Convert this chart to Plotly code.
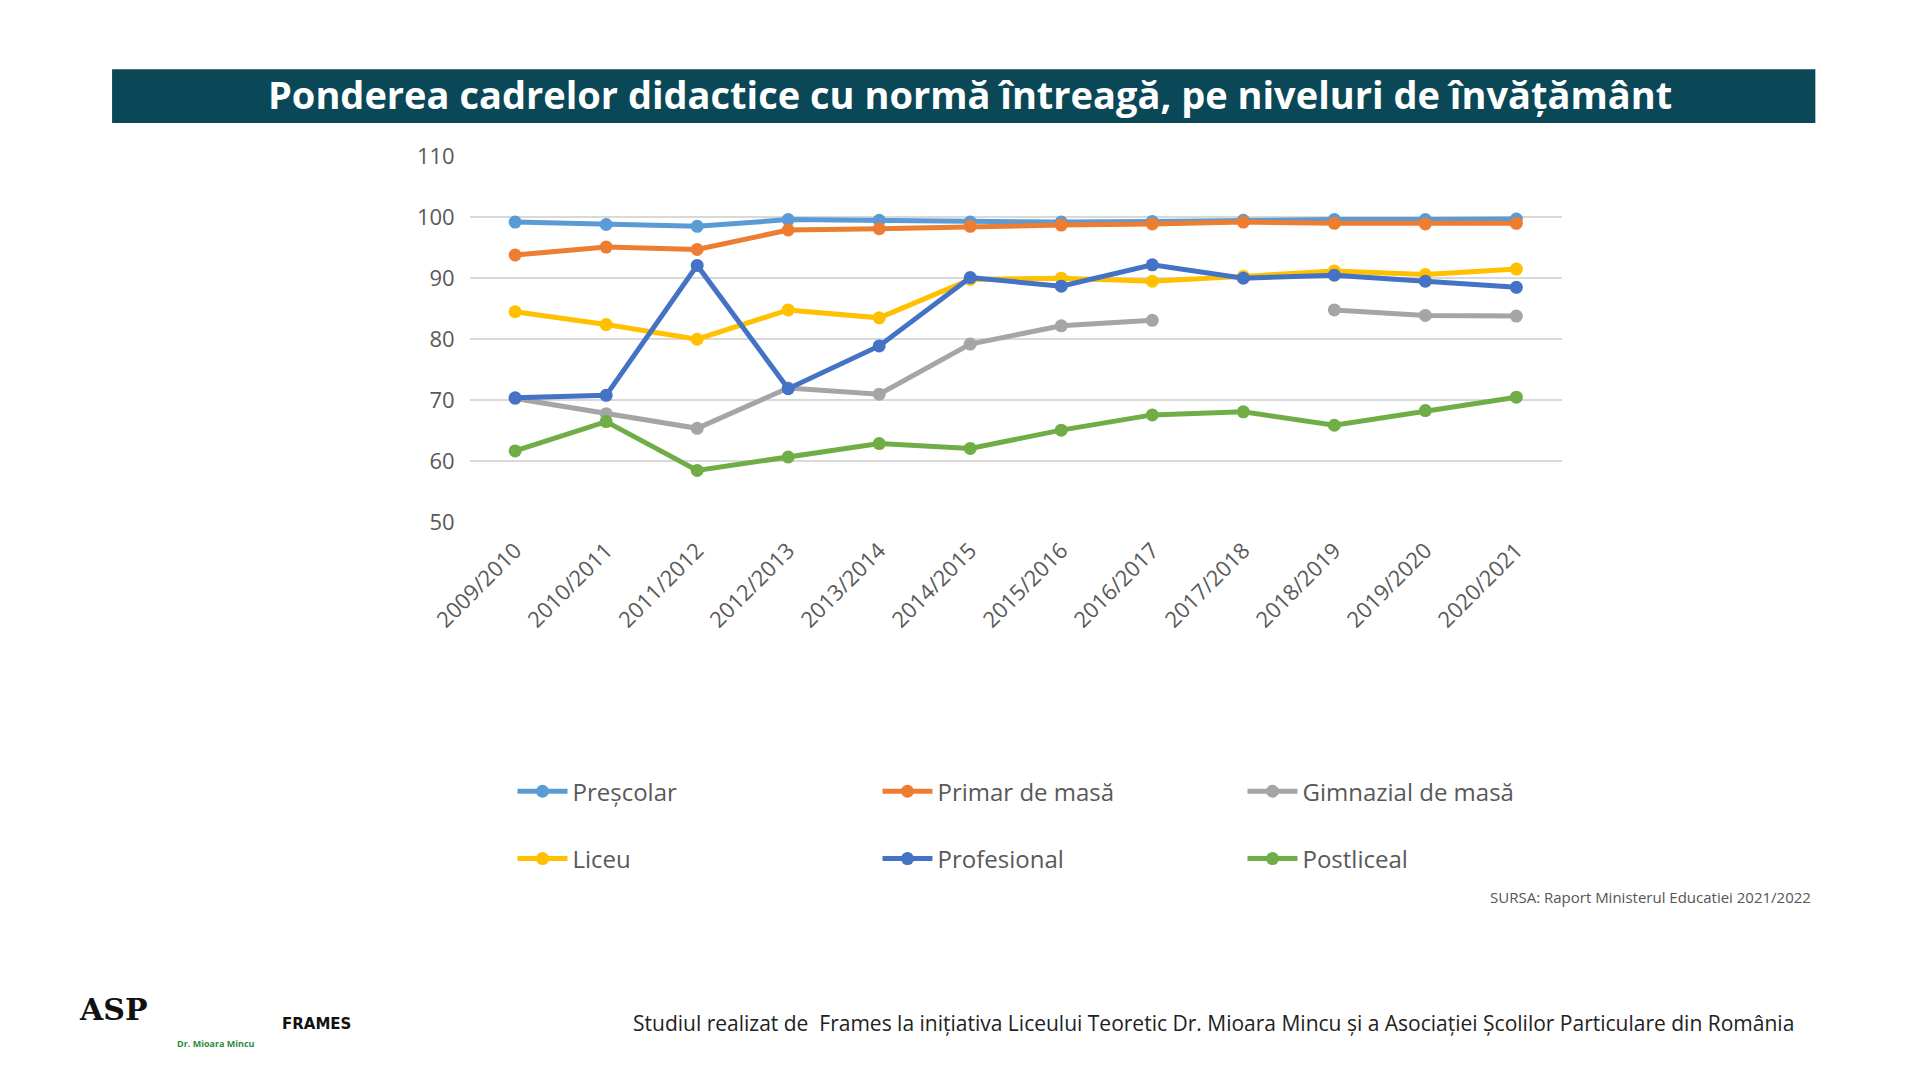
import plotly.graph_objects as go

years = ["2009/2010", "2010/2011", "2011/2012", "2012/2013", "2013/2014", "2014/2015",
         "2015/2016", "2016/2017", "2017/2018", "2018/2019", "2019/2020", "2020/2021"]

prescolar = [99.2, 98.8, 98.5, 99.6, 99.5, 99.2, 99.2, 99.3, 99.5, 99.6, 99.6, 99.7]
primar = [93.8, 95.1, 94.7, 97.9, 98.1, 98.5, 98.7, 98.9, 99.2, 99.0, 98.9, 99.0]
gimnazial = [70.3, 67.8, 65.4, 72.0, 71.0, 79.2, 82.2, 83.1, None, 84.8, 83.9, 83.8]
liceu = [84.5, 82.4, 80.0, 84.8, 83.5, 89.8, 90.0, 89.5, 90.3, 91.2, 90.6, 91.5]
profesional = [70.4, 70.8, 92.1, 71.9, 78.9, 90.1, 88.7, 92.2, 90.0, 90.5, 89.5, 88.5]
postliceal = [61.7, 66.5, 58.5, 60.7, 62.9, 62.1, 65.1, 67.6, 68.1, 65.9, 68.3, 70.5]

series = [
    ("Preșcolar", prescolar, "#5b9bd5", "legend"),
    ("Primar de masă", primar, "#ed7d31", "legend"),
    ("Gimnazial de masă", gimnazial, "#a5a5a5", "legend"),
    ("Liceu", liceu, "#ffc000", "legend2"),
    ("Profesional", profesional, "#4472c4", "legend2"),
    ("Postliceal", postliceal, "#70ad47", "legend2"),
]

# reference pixel (on a 1568x882 image) -> paper coords, small shift for page margin
def px(x):
    return (x - 6) / 1568


def py(y):
    return 1 - (y - 6) / 882


fig = go.Figure()
for name, vals, color, leg in series:
    fig.add_trace(go.Scatter(
        x=years, y=vals, name=name, mode="lines+markers", legend=leg,
        line=dict(color=color, width=5), marker=dict(color=color, size=13),
        connectgaps=False,
    ))

legend_style = dict(orientation="h", x=px(418), xanchor="left", yanchor="middle",
                    entrywidth=300, font=dict(size=24, color="#595959"),
                    itemwidth=50)

fig.update_layout(
    width=1920, height=1080,
    margin=dict(l=0, r=0, t=0, b=0, autoexpand=False),
    paper_bgcolor="white", plot_bgcolor="white",
    font=dict(family="Open Sans", color="#595959"),
    xaxis=dict(domain=[px(383), px(1275)], range=[-0.5, 11.5], tickangle=-45,
               tickfont=dict(size=22), showgrid=False, showline=False, ticks="",
               ticklabelstandoff=10),
    yaxis=dict(domain=[py(426), py(127)], range=[50, 110], dtick=10,
               tickfont=dict(size=22), gridcolor="#d9d9d9", gridwidth=2,
               zeroline=False, ticks="", ticklen=0, ticklabelstandoff=14),
    legend=dict(y=py(646), **legend_style),
    legend2=dict(y=py(701), **legend_style),
)

fig.add_shape(type="rect", xref="paper", yref="paper", x0=px(91), x1=px(1482),
              y0=py(100), y1=py(56), fillcolor="#0a4757", line_width=0, layer="above")
fig.add_annotation(xref="paper", yref="paper", x=px(792), y=py(76), showarrow=False,
                   xanchor="center", yanchor="middle",
                   text="<b>Ponderea cadrelor didactice cu normă întreagă, pe niveluri de învățământ</b>",
                   font=dict(family="Open Sans", size=38, color="white"))
fig.add_annotation(xref="paper", yref="paper", x=px(1480), y=py(732), xanchor="right",
                   yanchor="middle", showarrow=False,
                   text="SURSA: Raport Ministerul Educatiei 2021/2022",
                   font=dict(family="Open Sans", size=15, color="#555555"))
fig.add_annotation(xref="paper", yref="paper", x=px(1466), y=py(835), xanchor="right",
                   yanchor="middle", showarrow=False,
                   text="Studiul realizat de  Frames la inițiativa Liceului Teoretic Dr. Mioara Mincu și a Asociației Școlilor Particulare din România",
                   font=dict(family="Open Sans", size=21, color="#222222"))
fig.add_annotation(xref="paper", yref="paper", x=px(92), y=py(824), xanchor="center",
                   yanchor="middle", showarrow=False,
                   text="<b>ASP</b>", font=dict(family="DejaVu Serif", size=30, color="#111111"))
fig.add_annotation(xref="paper", yref="paper", x=px(176), y=py(852), xanchor="center",
                   yanchor="middle", showarrow=False,
                   text="<b>Dr. Mioara Mincu</b>", font=dict(size=9, color="#2e8b3c"))
fig.add_annotation(xref="paper", yref="paper", x=px(258), y=py(836), xanchor="center",
                   yanchor="middle", showarrow=False,
                   text="<b>FRAMES</b>", font=dict(family="DejaVu Sans", size=15, color="#111111"))

fig.write_html("out.html")
